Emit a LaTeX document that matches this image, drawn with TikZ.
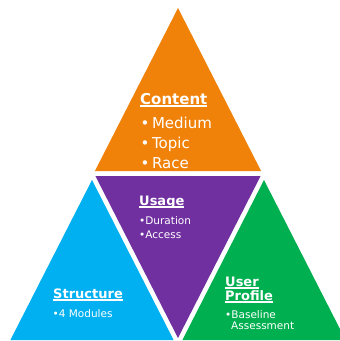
\documentclass[tikz,border=0pt]{standalone}
\usepackage{fontspec}
\setmainfont{DejaVu Sans}
\definecolor{contentorange}{RGB}{240,130,10}
\definecolor{usagepurple}{RGB}{112,48,160}
\definecolor{structureblue}{RGB}{0,176,240}
\definecolor{profilegreen}{RGB}{0,176,80}
\newcommand{\titleline}[1]{%
  \sbox0{\bfseries #1}\usebox0\llap{\rule[-2.6pt]{\wd0}{1.6pt}}}
\tikzset{
  heading/.style = {text=white, inner sep=0pt, anchor=base west,
                    font=\fontsize{13}{15}\selectfont},
  entry/.style   = {text=white, inner sep=0pt, anchor=base west,
                    font=\fontsize{10.5}{11}\selectfont},
  bigentry/.style = {entry, font=\fontsize{15}{18}\selectfont}
}

\begin{document}
\begin{tikzpicture}[x=1pt,y=-1pt]
  \useasboundingbox (0,0) rectangle (340,341);
  % the four faces
  \fill[contentorange] (178,8) -- (261.1,171) -- (94.9,171) -- cycle;
  \fill[usagepurple]   (95.4,176) -- (260.6,176) -- (178,338) -- cycle;
  \fill[structureblue] (92,180) -- (173.6,340) -- (10.4,340) -- cycle;
  \fill[profilegreen]  (264,180) -- (345.6,340) -- (182.4,340) -- cycle;
  % content
  \node[heading, font=\fontsize{15}{18}\selectfont] (Content) at (140,104) {\titleline{Content}};
  \node[bigentry] (Medium) at (140.5,128) {•\,Medium};
  \node[bigentry] (Topic)  at (140.5,148) {•\,Topic};
  \node[bigentry] (Race)   at (140.5,168) {•\,Race};
  % usage
  \node[heading] (Usage)    at (139,205) {\titleline{Usage}};
  \node[entry]   (Duration) at (139,224) {•Duration};
  \node[entry]   (Access)   at (139,238) {•Access};
  % structure
  \node[heading] (Structure) at (53,298) {\titleline{Structure}};
  \node[entry]   (Modules)   at (52.5,317) {•4 Modules};
  % user profile
  \node[heading] (User)       at (225,286) {\titleline{User}};
  \node[heading] (Profile)    at (225,300) {\titleline{Profile}};
  \node[entry]   (Baseline)   at (225,318) {•Baseline};
  \node[entry]   (Assessment) at (231,329) {Assessment};
\end{tikzpicture}
\end{document}
